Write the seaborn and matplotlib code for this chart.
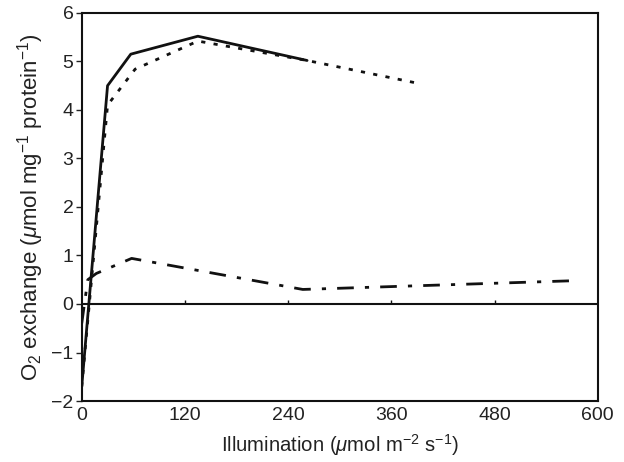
import numpy as np
import pandas as pd
import seaborn as sns
import matplotlib
matplotlib.use("Agg")
import matplotlib.pyplot as plt

# Data
solid_x = [0, 30, 57, 135, 262]
solid_y = [-1.7, 4.5, 5.15, 5.52, 5.02]

dotted_x = [0, 30, 62, 135, 262, 388]
dotted_y = [-1.7, 4.1, 4.84, 5.42, 5.02, 4.56]

dashdot_x = [0, 7, 17, 58, 257, 572]
dashdot_y = [-0.4, 0.5, 0.63, 0.94, 0.3, 0.48]

xticks = [0, 120, 240, 360, 480, 600]
yticks = [-2, -1, 0, 1, 2, 3, 4, 5, 6]

sns.set_style("white")
plt.rcParams['font.family'] = ['Liberation Sans', 'DejaVu Sans']
plt.rcParams['mathtext.fontset'] = 'custom'
plt.rcParams['mathtext.rm'] = 'Liberation Sans'
plt.rcParams['mathtext.it'] = 'Liberation Sans:italic'

fig = plt.figure(figsize=(6.24, 4.62), dpi=100)
ax = fig.add_axes([0.131, 0.132, 0.827, 0.840])

df_s = pd.DataFrame({"x": solid_x, "y": solid_y})
df_d = pd.DataFrame({"x": dotted_x, "y": dotted_y})
df_dd = pd.DataFrame({"x": dashdot_x, "y": dashdot_y})

sns.lineplot(data=df_d, x="x", y="y", ax=ax, color="#111111", lw=2.0,
             linestyle=(0, (1.5, 3.0)), sort=False, estimator=None)
sns.lineplot(data=df_s, x="x", y="y", ax=ax, color="#111111", lw=2.0,
             linestyle="-", sort=False, estimator=None)
sns.lineplot(data=df_dd, x="x", y="y", ax=ax, color="#111111", lw=2.0,
             linestyle=(0, (6, 4, 1.5, 4)), sort=False, estimator=None)

ax.axhline(0, color="#111111", lw=1.5, zorder=1)
# small tick marks on the zero line
ax.vlines(xticks[1:-1], 0, 0.08, color="#111111", lw=1.0)

ax.set_xlim(0, 600)
ax.set_ylim(-2, 6)
ax.set_xticks(xticks)
ax.set_yticks(yticks)
ax.set_xticklabels([str(v) for v in xticks])
ax.set_yticklabels([("\u2212" + str(-v)) if v < 0 else str(v) for v in yticks])
ax.tick_params(axis='x', length=0, labelsize=14, pad=4, colors="#222222")
ax.tick_params(axis='y', length=4, width=1, direction='out', labelsize=14,
               pad=2, colors="#222222", left=True)

for s in ax.spines.values():
    s.set_color("#111111")
    s.set_linewidth(1.5)

ax.set_xlabel(r"Illumination ($\mathit{\mu}$mol m$^{-2}$ s$^{-1}$)", fontsize=14.6,
              color="#222222", labelpad=6)
ax.set_ylabel(r"O$_2$ exchange ($\mathit{\mu}$mol mg$^{-1}$ protein$^{-1}$)",
              fontsize=16, color="#222222", labelpad=4)

fig.savefig("out.png", dpi=100)
